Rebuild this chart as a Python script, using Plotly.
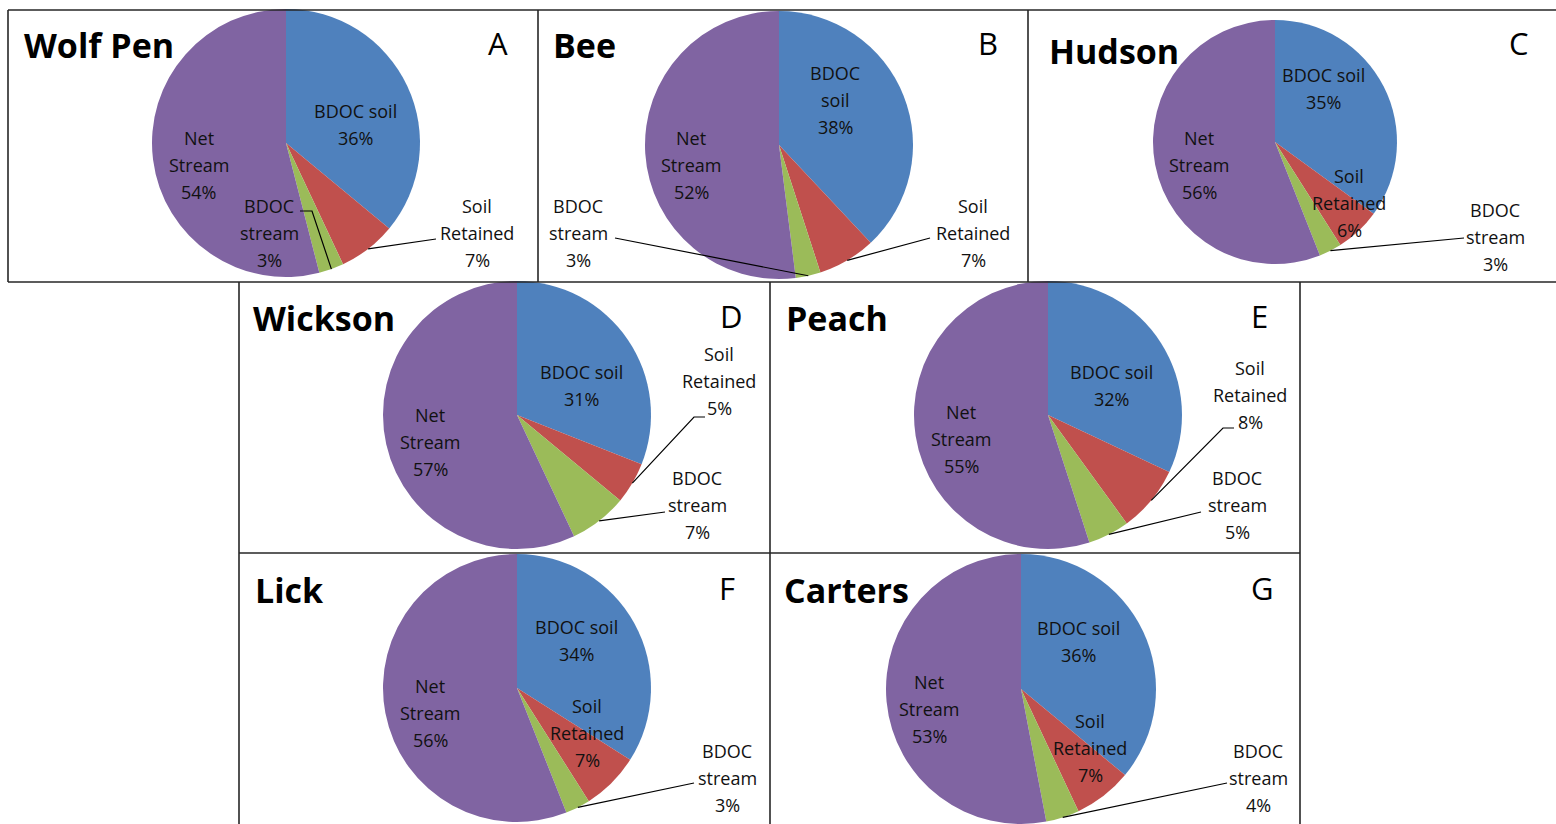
import math
import plotly.graph_objects as go

W, H = 1556, 824

# Flux categories, in slice order (clockwise from 12 o'clock)
categories = ["BDOC soil", "Soil Retained", "BDOC stream", "Net Stream"]
colors = ["#4F81BD", "#C0504D", "#9BBB59", "#8064A2"]

# Watershed names, panel letters and percentage shares
sites = ["Wolf Pen", "Bee", "Hudson", "Wickson", "Peach", "Lick", "Carters"]
letters = ["A", "B", "C", "D", "E", "F", "G"]
bdoc_soil = [36, 38, 35, 31, 32, 34, 36]
soil_retained = [7, 7, 6, 5, 8, 7, 7]
bdoc_stream = [3, 3, 3, 7, 5, 3, 4]
net_stream = [54, 52, 56, 57, 55, 56, 53]

# ---- layout of each panel (pixels, origin top-left) ----
panel_layout = [
    dict(center=(286, 143), r=134, title=(22, 45), letter=(498, 43),
         labels={"BDOC soil": (355, 111), "Soil Retained": (477, 206),
                 "BDOC stream": (269, 206), "Net Stream": (199, 138)},
         leaders={"BDOC stream": [(300, 211), (312, 211)],
                  "Soil Retained": [(436, 239)]}),
    dict(center=(779, 145), r=134, title=(551, 45), letter=(988, 43),
         labels={"BDOC soil": (835, 73), "Soil Retained": (973, 206),
                 "BDOC stream": (578, 206), "Net Stream": (691, 138)},
         leaders={"BDOC stream": [(615, 238)],
                  "Soil Retained": [(930, 238)]},
         wrap={"BDOC soil": ["BDOC", "soil"]}),
    dict(center=(1275, 142), r=122, title=(1047, 51), letter=(1519, 43),
         labels={"BDOC soil": (1323, 75), "Soil Retained": (1349, 176),
                 "BDOC stream": (1495, 210), "Net Stream": (1199, 138)},
         leaders={"BDOC stream": [(1464, 238)]}),
    dict(center=(517, 415), r=134, title=(251, 318), letter=(731, 316),
         labels={"BDOC soil": (581, 372), "Soil Retained": (719, 354),
                 "BDOC stream": (697, 478), "Net Stream": (430, 415)},
         leaders={"Soil Retained": [(705, 417), (694, 417)],
                  "BDOC stream": [(665, 512)]}),
    dict(center=(1048, 415), r=134, title=(784, 318), letter=(1259, 316),
         labels={"BDOC soil": (1111, 372), "Soil Retained": (1250, 368),
                 "BDOC stream": (1237, 478), "Net Stream": (961, 412)},
         leaders={"Soil Retained": [(1234, 428), (1223, 428)],
                  "BDOC stream": [(1201, 512)]}),
    dict(center=(517, 688), r=134, title=(253, 590), letter=(727, 588),
         labels={"BDOC soil": (576, 627), "Soil Retained": (587, 706),
                 "BDOC stream": (727, 751), "Net Stream": (430, 686)},
         leaders={"BDOC stream": [(694, 783)]}),
    dict(center=(1021, 689), r=135, title=(782, 590), letter=(1262, 588),
         labels={"BDOC soil": (1078, 628), "Soil Retained": (1090, 721),
                 "BDOC stream": (1258, 751), "Net Stream": (929, 682)},
         leaders={"BDOC stream": [(1227, 783)]}),
]

default_wrap = {"BDOC soil": ["BDOC soil"], "Soil Retained": ["Soil", "Retained"],
                "BDOC stream": ["BDOC", "stream"], "Net Stream": ["Net", "Stream"]}

LINE_GAP = 27
LABEL_FONT = dict(family="Open Sans", size=18, color="#111111")
TITLE_FONT = dict(family="Open Sans", size=34, color="#000000")
LETTER_FONT = dict(family="Open Sans", size=31, color="#000000")
BOX_COLOR = "#262626"


def px(x):
    return x / W


def py(y):
    return 1 - y / H


fig = go.Figure()
annotations = []
shapes = []

for i, site in enumerate(sites):
    values = [bdoc_soil[i], soil_retained[i], bdoc_stream[i], net_stream[i]]
    lay = panel_layout[i]
    cx, cy = lay["center"]
    r = lay["r"]
    dom_x = [max(0, px(cx - r)), min(1, px(cx + r))]
    dom_y = [max(0, py(cy + r)), min(1, py(cy - r))]
    fig.add_trace(go.Pie(
        values=values, labels=categories, sort=False, direction="clockwise",
        rotation=0, textinfo="none", hoverinfo="label+value",
        marker=dict(colors=colors, line=dict(width=0)),
        domain=dict(x=dom_x, y=dom_y), showlegend=False, name=site,
    ))

    # site title and panel letter
    tx, ty = lay["title"]
    annotations.append(dict(text=f"<b>{site}</b>", x=px(tx), y=py(ty), xanchor="left",
                            yanchor="middle", font=TITLE_FONT))
    lx, ly = lay["letter"]
    annotations.append(dict(text=letters[i], x=px(lx), y=py(ly), xanchor="center",
                            yanchor="middle", font=LETTER_FONT))

    # slice labels: name lines followed by the percentage
    total = sum(values)
    cum = 0
    mids = {}
    for cat, v in zip(categories, values):
        mids[cat] = (cum + v / 2) / total * 2 * math.pi
        cum += v
    wrap = dict(default_wrap)
    wrap.update(lay.get("wrap", {}))
    for cat, v in zip(categories, values):
        lines = wrap[cat] + [f"{v}%"]
        x0, y0 = lay["labels"][cat]
        for k, line in enumerate(lines):
            annotations.append(dict(text=line, x=px(x0), y=py(y0 + k * LINE_GAP),
                                    xanchor="center", yanchor="middle", font=LABEL_FONT))

    # leader lines from outside labels to the slice edge
    for cat, pts in lay.get("leaders", {}).items():
        a = mids[cat]
        edge = (cx + r * math.sin(a), cy - r * math.cos(a))
        path_pts = pts + [edge]
        d = "M " + " L ".join(f"{px(x):.5f},{py(y):.5f}" for x, y in path_pts)
        shapes.append(dict(type="path", path=d, xref="paper", yref="paper",
                           line=dict(color="#000000", width=1.2)))

# panel frames
frame_lines = [
    # top row
    ((8, 10), (1556, 10)), ((8, 282), (1556, 282)), ((8, 10), (8, 282)),
    ((538, 10), (538, 282)), ((1028, 10), (1028, 282)),
    # middle row
    ((239, 282), (239, 553)), ((770, 282), (770, 553)), ((1300, 282), (1300, 553)),
    ((239, 553), (1300, 553)),
    # bottom row
    ((239, 553), (239, 824)), ((770, 553), (770, 824)), ((1300, 553), (1300, 824)),
]
for (x0, y0), (x1, y1) in frame_lines:
    shapes.append(dict(type="line", xref="paper", yref="paper",
                       x0=px(x0), y0=py(y0), x1=px(x1), y1=py(y1),
                       line=dict(color=BOX_COLOR, width=1.6)))

for a in annotations:
    a.update(xref="paper", yref="paper", showarrow=False)

fig.update_layout(
    width=W, height=H, autosize=False,
    margin=dict(l=0, r=0, t=0, b=0),
    paper_bgcolor="white", plot_bgcolor="white",
    annotations=annotations, shapes=shapes,
)

fig.write_html("out.html", config={"displayModeBar": False})
